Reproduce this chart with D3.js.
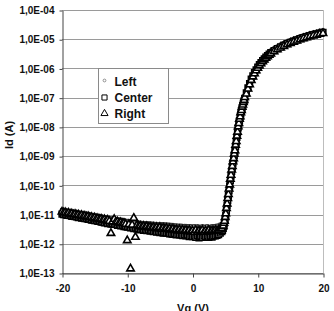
<!DOCTYPE html>
<html>
<head>
<meta charset="utf-8">
<script src="https://cdn.jsdelivr.net/npm/d3@7"></script>
<style>
  body { margin: 0; background: #fff; }
  svg text { font-family: Arial, "Liberation Sans", sans-serif; font-weight: bold; fill: #111; }
</style>
</head>
<body>
<svg id="chart" width="334" height="311"></svg>
<script>
//=================== DATA =========================
// gate voltage, shared by the three series
var vg = [
  -20, -19.75, -19.5, -19.25, -19, -18.75, -18.5, -18.25,
  -18, -17.75, -17.5, -17.25, -17, -16.75, -16.5, -16.25,
  -16, -15.75, -15.5, -15.25, -15, -14.75, -14.5, -14.25,
  -14, -13.75, -13.5, -13.25, -13, -12.75, -12.5, -12.25,
  -12, -11.75, -11.5, -11.25, -11, -10.75, -10.5, -10.25,
  -10, -9.75, -9.5, -9.25, -9, -8.75, -8.5, -8.25,
  -8, -7.75, -7.5, -7.25, -7, -6.75, -6.5, -6.25,
  -6, -5.75, -5.5, -5.25, -5, -4.75, -4.5, -4.25,
  -4, -3.75, -3.5, -3.25, -3, -2.75, -2.5, -2.25,
  -2, -1.75, -1.5, -1.25, -1, -0.75, -0.5, -0.25,
  0, 0.25, 0.5, 0.75, 1, 1.25, 1.5, 1.75,
  2, 2.25, 2.5, 2.75, 3, 3.25, 3.5, 3.75,
  4, 4.25,
  4.5, 4.6, 4.7, 4.8, 4.9, 5.0, 5.1, 5.2, 5.3, 5.4,
  5.5, 5.6, 5.7, 5.8, 5.9, 6.0, 6.1, 6.2, 6.3, 6.4,
  6.5, 6.6, 6.7, 6.8, 6.9, 7.0, 7.1, 7.2, 7.3, 7.4,
  7.5, 7.6, 7.7, 7.8, 7.9, 8.0,
  8.25, 8.5, 8.75, 9, 9.25, 9.5, 9.75, 10,
  10.25, 10.5, 10.75, 11, 11.25, 11.5, 11.75, 12,
  12.5, 13, 13.5, 14, 14.5, 15, 15.5, 16,
  16.5, 17, 17.5, 18, 18.5, 19, 19.5, 20
];

// drain current (A) - "Left"
var idLeft = [
  14.3e-12, 14.1e-12, 13.6e-12, 13.4e-12, 13.0e-12, 12.8e-12, 12.5e-12, 12.2e-12,
  12.0e-12, 11.8e-12, 11.5e-12, 11.2e-12, 11.0e-12, 10.8e-12, 10.6e-12, 10.3e-12,
  10.1e-12, 9.9e-12, 9.7e-12, 9.4e-12, 9.2e-12, 9.0e-12, 8.8e-12, 8.6e-12,
  8.4e-12, 8.1e-12, 8.0e-12, 7.8e-12, 7.6e-12, 7.6e-12, 7.3e-12, 7.2e-12,
  7.1e-12, 7.0e-12, 6.8e-12, 6.6e-12, 6.6e-12, 6.4e-12, 6.3e-12, 6.1e-12,
  6.0e-12, 5.9e-12, 5.8e-12, 5.6e-12, 5.6e-12, 5.4e-12, 5.4e-12, 5.2e-12,
  5.2e-12, 5.1e-12, 5.1e-12, 5.0e-12, 5.0e-12, 4.9e-12, 4.9e-12, 4.8e-12,
  4.8e-12, 4.7e-12, 4.7e-12, 4.6e-12, 4.7e-12, 4.6e-12, 4.6e-12, 4.5e-12,
  4.5e-12, 4.4e-12, 4.4e-12, 4.3e-12, 4.3e-12, 4.2e-12, 4.2e-12, 4.1e-12,
  4.1e-12, 4.1e-12, 4.0e-12, 4.0e-12, 4.0e-12, 3.9e-12, 3.9e-12, 3.9e-12,
  3.8e-12, 3.9e-12, 3.7e-12, 3.9e-12, 3.8e-12, 3.7e-12, 3.9e-12, 3.8e-12,
  3.8e-12, 3.9e-12, 3.7e-12, 3.8e-12, 3.9e-12, 3.9e-12, 4.0e-12, 4.1e-12,
  4.2e-12, 4.5e-12,
  4.3e-12, 4.7e-12, 5.3e-12, 6.2e-12, 7.6e-12, 9.6e-12, 1.35e-11, 1.9e-11, 2.9e-11, 4.1e-11,
  6.0e-11, 8.8e-11, 1.27e-10, 1.9e-10, 2.7e-10, 3.9e-10, 5.5e-10, 7.5e-10, 1.01e-9, 1.35e-9,
  1.85e-9, 2.7e-9, 3.9e-9, 5.7e-9, 8.1e-9, 1.18e-8, 1.6e-8, 2.1e-8, 2.7e-8, 3.5e-8,
  4.4e-8, 5.5e-8, 6.8e-8, 8.1e-8, 9.8e-8, 1.17e-7,
  1.75e-7, 2.6e-7, 3.6e-7, 5.1e-7, 6.7e-7, 8.6e-7, 1.08e-6, 1.32e-6,
  1.59e-6, 1.87e-6, 2.2e-6, 2.52e-6, 2.9e-6, 3.24e-6, 3.64e-6, 4.08e-6,
  4.84e-6, 5.62e-6, 6.47e-6, 7.34e-6, 8.33e-6, 9.24e-6, 1.02e-5, 1.12e-5,
  1.24e-5, 1.35e-5, 1.45e-5, 1.57e-5, 1.69e-5, 1.78e-5, 1.91e-5, 2.02e-5
];

// drain current (A) - "Center"
var idCenter = [
  10.4e-12, 9.9e-12, 10.0e-12, 9.4e-12, 9.3e-12, 9.2e-12, 8.7e-12, 8.8e-12,
  8.5e-12, 8.4e-12, 7.9e-12, 8.0e-12, 7.6e-12, 7.6e-12, 7.2e-12, 7.2e-12,
  6.9e-12, 6.9e-12, 6.5e-12, 6.5e-12, 6.2e-12, 6.2e-12, 5.8e-12, 5.9e-12,
  5.5e-12, 5.5e-12, 5.2e-12, 5.3e-12, 4.9e-12, 5.1e-12, 4.7e-12, 4.8e-12,
  4.6e-12, 4.6e-12, 4.3e-12, 4.4e-12, 4.1e-12, 4.2e-12, 3.9e-12, 3.9e-12,
  3.7e-12, 3.8e-12, 3.5e-12, 3.6e-12, 3.3e-12, 3.4e-12, 3.2e-12, 3.2e-12,
  3.0e-12, 3.1e-12, 2.9e-12, 3.0e-12, 2.8e-12, 2.9e-12, 2.7e-12, 2.8e-12,
  2.6e-12, 2.7e-12, 2.5e-12, 2.6e-12, 2.4e-12, 2.5e-12, 2.3e-12, 2.4e-12,
  2.3e-12, 2.3e-12, 2.2e-12, 2.2e-12, 2.1e-12, 2.2e-12, 2.0e-12, 2.1e-12,
  2.0e-12, 2.0e-12, 1.9e-12, 2.0e-12, 1.85e-12, 1.95e-12, 1.75e-12, 1.85e-12,
  1.75e-12, 1.85e-12, 1.65e-12, 1.85e-12, 1.6e-12, 1.8e-12, 1.65e-12, 1.85e-12,
  1.75e-12, 1.85e-12, 1.65e-12, 1.8e-12, 1.7e-12, 1.85e-12, 1.85e-12, 1.95e-12,
  2.05e-12, 2.3e-12,
  2.6e-12, 2.9e-12, 3.4e-12, 4.0e-12, 5.1e-12, 6.6e-12, 9.3e-12, 1.35e-11, 2.05e-11, 3.0e-11,
  4.4e-11, 6.5e-11, 9.5e-11, 1.45e-10, 2.05e-10, 3.0e-10, 4.2e-10, 5.7e-10, 7.8e-10, 1.07e-9,
  1.45e-9, 2.1e-9, 3.0e-9, 4.4e-9, 6.3e-9, 9.2e-9, 1.26e-8, 1.65e-8, 2.15e-8, 2.8e-8,
  3.5e-8, 4.4e-8, 5.4e-8, 6.4e-8, 7.8e-8, 9.4e-8,
  1.45e-7, 2.15e-7, 3.0e-7, 4.3e-7, 5.6e-7, 7.2e-7, 9.0e-7, 1.11e-6,
  1.34e-6, 1.58e-6, 1.86e-6, 2.13e-6, 2.45e-6, 2.75e-6, 3.08e-6, 3.45e-6,
  4.1e-6, 4.76e-6, 5.48e-6, 6.22e-6, 7.06e-6, 7.83e-6, 8.69e-6, 9.53e-6,
  1.05e-5, 1.14e-5, 1.23e-5, 1.34e-5, 1.43e-5, 1.51e-5, 1.62e-5, 1.72e-5
];

// drain current (A) - "Right"
var idRight = [
  12.4e-12, 11.6e-12, 11.9e-12, 11.0e-12, 11.3e-12, 10.5e-12, 10.8e-12, 10.0e-12,
  10.4e-12, 9.7e-12, 9.9e-12, 9.2e-12, 9.5e-12, 8.8e-12, 9.0e-12, 8.4e-12,
  8.7e-12, 8.0e-12, 8.2e-12, 7.6e-12, 7.8e-12, 7.2e-12, 7.4e-12, 6.9e-12,
  7.1e-12, 6.5e-12, 6.8e-12, 6.2e-12, 6.5e-12, 6.0e-12, 2.3e-12, 5.7e-12,
  7.0e-12, 5.6e-12, 5.7e-12, 5.2e-12, 5.4e-12, 5.0e-12, 5.1e-12, 4.7e-12,
  1.3e-12, 4.6e-12, 0.14e-12, 4.4e-12, 7.6e-12, 1.7e-12, 4.3e-12, 4.0e-12,
  4.1e-12, 3.8e-12, 4.0e-12, 3.7e-12, 3.9e-12, 3.6e-12, 3.8e-12, 3.5e-12,
  3.7e-12, 3.4e-12, 3.6e-12, 3.3e-12, 3.6e-12, 3.2e-12, 3.5e-12, 3.2e-12,
  3.4e-12, 3.1e-12, 3.3e-12, 3.0e-12, 3.2e-12, 2.9e-12, 3.1e-12, 2.8e-12,
  3.1e-12, 2.8e-12, 3.0e-12, 2.7e-12, 2.9e-12, 2.6e-12, 2.9e-12, 2.6e-12,
  2.8e-12, 2.5e-12, 2.9e-12, 2.5e-12, 2.8e-12, 2.6e-12, 2.9e-12, 2.5e-12,
  2.8e-12, 2.6e-12, 2.9e-12, 2.6e-12, 2.8e-12, 2.7e-12, 2.9e-12, 2.8e-12,
  3.0e-12, 3.3e-12,
  3.3e-12, 3.9e-12, 4.1e-12, 5.1e-12, 6.0e-12, 8.1e-12, 1.08e-11, 1.65e-11, 2.35e-11, 3.6e-11,
  4.9e-11, 7.6e-11, 1.05e-10, 1.65e-10, 2.25e-10, 3.4e-10, 4.5e-10, 6.5e-10, 8.3e-10, 1.2e-9,
  1.55e-9, 2.4e-9, 3.2e-9, 4.9e-9, 6.7e-9, 1.02e-8, 1.32e-8, 1.85e-8, 2.25e-8, 3.1e-8,
  3.7e-8, 4.8e-8, 5.7e-8, 7.0e-8, 8.2e-8, 1.02e-7,
  1.35e-7, 2.0e-7, 2.8e-7, 3.95e-7, 5.2e-7, 6.65e-7, 8.4e-7, 1.03e-6,
  1.24e-6, 1.46e-6, 1.72e-6, 1.98e-6, 2.26e-6, 2.54e-6, 2.86e-6, 3.2e-6,
  3.8e-6, 4.4e-6, 5.07e-6, 5.76e-6, 6.53e-6, 7.25e-6, 8.03e-6, 8.8e-6,
  9.7e-6, 1.06e-5, 1.14e-5, 1.24e-5, 1.32e-5, 1.39e-5, 1.5e-5, 1.59e-5
];

var seriesNames = ["Left", "Center", "Right"];

var xTicks = [-20, -10, 0, 10, 20];
var xTickLabels = ["-20", "-10", "0", "10", "20"];
var yTicks = [1e-13, 1e-12, 1e-11, 1e-10, 1e-9, 1e-8, 1e-7, 1e-6, 1e-5, 1e-4];
var yTickLabels = ["1,0E-13", "1,0E-12", "1,0E-11", "1,0E-10", "1,0E-09",
                   "1,0E-08", "1,0E-07", "1,0E-06", "1,0E-05", "1,0E-04"];

//=================== LAYOUT =========================
var plotLeft = 62, plotRight = 323, plotTop = 10, plotBottom = 273;

var svg = d3.select("#chart");

var xScale = d3.scaleLinear().domain([-20, 20]).range([plotLeft, plotRight]);
var yScale = d3.scaleLog().domain([1e-13, 1e-4]).range([plotBottom, plotTop]);

function crisp(v) { return Math.round(v) + 0.5; }

//=================== GRID =========================
svg.append("g")
  .selectAll("line")
  .data(yTicks)
  .enter()
  .append("line")
    .attr("x1", plotLeft)
    .attr("x2", plotRight)
    .attr("y1", function (d) { return crisp(yScale(d)); })
    .attr("y2", function (d) { return crisp(yScale(d)); })
    .attr("stroke", "#9a9a9a")
    .attr("stroke-width", 1);

// right border of the plot area
svg.append("line")
  .attr("x1", crisp(plotRight)).attr("x2", crisp(plotRight))
  .attr("y1", plotTop).attr("y2", plotBottom)
  .attr("stroke", "#bdbdbd");

//=================== AXES =========================
var yAxis = d3.axisLeft(yScale)
  .tickValues(yTicks)
  .tickFormat(function (d, i) { return yTickLabels[i]; })
  .tickSize(3)
  .tickSizeOuter(0)
  .tickPadding(5);

var xAxis = d3.axisBottom(xScale)
  .tickValues(xTicks)
  .tickFormat(function (d, i) { return xTickLabels[i]; })
  .tickSize(4)
  .tickSizeOuter(0)
  .tickPadding(7);

var gy = svg.append("g")
  .attr("transform", "translate(" + crisp(plotLeft) + ",0.5)")
  .call(yAxis);

var gx = svg.append("g")
  .attr("transform", "translate(0.5," + crisp(plotBottom) + ")")
  .call(xAxis);

[gx, gy].forEach(function (g) {
  g.attr("font-family", null).attr("font-size", 10);
  g.select(".domain").attr("stroke", "#444");
  g.selectAll(".tick line").attr("stroke", "#444");
  g.selectAll(".tick text").attr("fill", "#111");
});

// axis titles
svg.append("text")
  .attr("transform", "translate(13,135) rotate(-90)")
  .attr("text-anchor", "middle")
  .style("font-size", "11px")
  .text("Id (A)");

svg.append("text")
  .attr("x", 193)
  .attr("y", 312)
  .attr("text-anchor", "middle")
  .style("font-size", "11px")
  .text("Vg (V)");

//=================== MARKERS =========================
var squarePath = d3.symbol().type(d3.symbolSquare).size(32)();
var trianglePath = d3.symbol().type(d3.symbolTriangle).size(24)();
var squareKey = d3.symbol().type(d3.symbolSquare).size(26)();
var triangleKey = d3.symbol().type(d3.symbolTriangle).size(22)();

function drawSeries(values, cls) {
  var pts = vg.map(function (v, i) { return { x: v, y: values[i] }; });
  var grp = svg.append("g").classed(cls, true);
  var sel = grp.selectAll("path").data(pts).enter();

  if (cls === "left") {
    sel.append("circle")
      .attr("cx", function (d) { return xScale(d.x); })
      .attr("cy", function (d) { return yScale(d.y); })
      .attr("r", 1.8)
      .attr("fill", "#fff")
      .attr("stroke", "#333")
      .attr("stroke-width", 1.2);
  } else {
    sel.append("path")
      .attr("d", cls === "center" ? squarePath : trianglePath)
      .attr("transform", function (d) {
        return "translate(" + xScale(d.x) + "," + yScale(d.y) + ")";
      })
      .attr("fill", "#fff")
      .attr("stroke", "#000")
      .attr("stroke-width", 1.6);
  }
}

drawSeries(idLeft, "left");
drawSeries(idCenter, "center");
drawSeries(idRight, "right");

//=================== LEGEND =========================
var legend = svg.append("g").attr("transform", "translate(98.5,68.5)");

legend.append("rect")
  .attr("width", 70)
  .attr("height", 55)
  .attr("fill", "#fff")
  .attr("stroke", "#8a8a8a");

var rows = legend.selectAll("g.item")
  .data(seriesNames)
  .enter()
  .append("g")
    .classed("item", true)
    .attr("transform", function (d, i) { return "translate(0," + (13 + i * 16) + ")"; });

rows.each(function (d, i) {
  var row = d3.select(this);
  if (i === 0) {
    row.append("circle").attr("cx", 6).attr("cy", -1).attr("r", 1.4)
      .attr("fill", "#fff").attr("stroke", "#777").attr("stroke-width", 0.8);
  } else {
    row.append("path")
      .attr("d", i === 1 ? squareKey : triangleKey)
      .attr("transform", "translate(6,0)")
      .attr("fill", "#fff")
      .attr("stroke", "#000")
      .attr("stroke-width", 1);
  }
  row.append("text")
    .attr("x", 16)
    .attr("dy", "0.35em")
    .style("font-size", "12px")
    .text(d);
});
</script>
</body>
</html>
